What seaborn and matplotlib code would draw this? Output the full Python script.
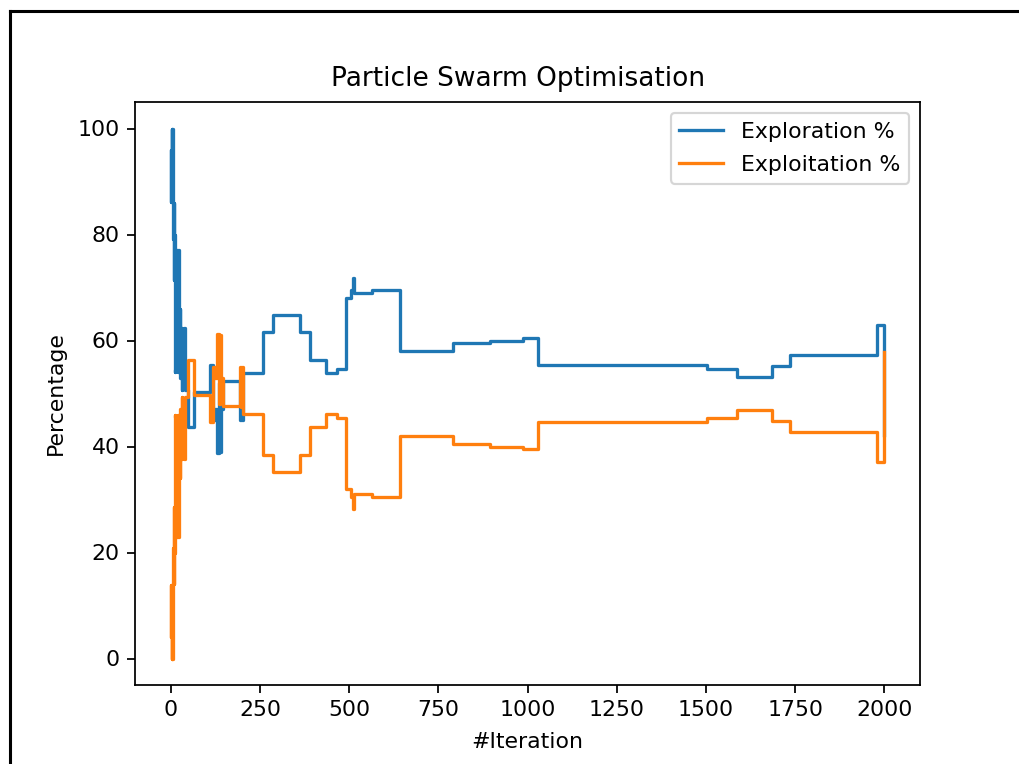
import matplotlib
matplotlib.use("Agg")
import matplotlib.pyplot as plt
import seaborn as sns
import pandas as pd

# step breakpoints (value holds until next iteration)
iteration = [0, 1, 2, 3, 4, 5, 6, 7, 8, 9, 10, 11, 12, 13, 14, 16, 18, 19, 20, 21,
             23, 25, 27, 29, 31, 33, 36, 38, 41, 48, 64, 110, 118, 124, 131, 135, 138, 142, 146, 194,
             197, 199, 203, 259, 287, 363, 391, 436, 467, 492, 505, 510, 513, 565, 644, 790, 894, 987, 1029, 1502,
             1586, 1684, 1735, 1980, 2000]
exploration = [95.8, 86.2, 96.0, 100.0, 88.5, 100.0, 82.0, 79.2, 86.0, 71.4, 80.0, 54.0, 66.0, 54.5, 71.0, 58.0, 77.0, 62.0, 54.0, 77.0,
               56.0, 66.0, 53.0, 62.3, 50.7, 60.0, 51.5, 62.3, 50.7, 43.7, 50.3, 55.4, 45.0, 47.0, 38.8, 52.0, 39.0, 47.0, 52.3, 45.0,
               52.5, 45.0, 53.9, 61.6, 64.8, 61.6, 56.3, 53.9, 54.6, 68.0, 69.5, 71.8, 69.0, 69.6, 58.0, 59.5, 60.0, 60.4, 55.3, 54.6,
               53.1, 55.1, 57.2, 63.0, 42.2]
exploitation = [4.2, 13.8, 4.0, 0.0, 11.5, 0.0, 18.0, 20.8, 14.0, 28.6, 20.0, 46.0, 34.0, 45.5, 29.0, 42.0, 23.0, 38.0, 46.0, 23.0,
                44.0, 34.0, 47.0, 37.7, 49.3, 40.0, 48.5, 37.7, 49.3, 56.3, 49.7, 44.6, 55.0, 53.0, 61.2, 48.0, 61.0, 53.0, 47.7, 55.0,
                47.5, 55.0, 46.1, 38.4, 35.2, 38.4, 43.7, 46.1, 45.4, 32.0, 30.5, 28.2, 31.0, 30.4, 42.0, 40.5, 40.0, 39.6, 44.7, 45.4,
                46.9, 44.9, 42.8, 37.0, 57.8]

df = pd.DataFrame({"iteration": iteration,
                   "exploration": exploration,
                   "exploitation": exploitation})

DPI = 158
fig = plt.figure(figsize=(1019 / DPI, 764 / DPI), dpi=DPI)
ax = fig.add_axes([135 / 1019, 1 - 685 / 764, 785 / 1019, 583 / 764])

sns.lineplot(data=df, x="iteration", y="exploration", ax=ax, color="#1f77b4",
             drawstyle="steps-post", estimator=None, sort=False, label="Exploration %")
sns.lineplot(data=df, x="iteration", y="exploitation", ax=ax, color="#ff7f0e",
             drawstyle="steps-post", estimator=None, sort=False, label="Exploitation %")

ax.set_xticks([0, 250, 500, 750, 1000, 1250, 1500, 1750, 2000])
ax.set_yticks([0, 20, 40, 60, 80, 100])
ax.set_xlabel("#Iteration", labelpad=5.4)
ax.set_ylabel("Percentage", labelpad=5.4)
ax.set_title("Particle Swarm Optimisation", x=0.488, pad=7.5)
ax.legend(loc="upper right", labelspacing=0.6)

# screenshot frame (top and left edges)
fig.add_artist(plt.Line2D([9.5 / 1019, 9.5 / 1019], [0, 1 - 10.5 / 764],
                          transform=fig.transFigure, color="black", lw=1.4))
fig.add_artist(plt.Line2D([9.5 / 1019, 1], [1 - 10.5 / 764, 1 - 10.5 / 764],
                          transform=fig.transFigure, color="black", lw=1.4))

fig.savefig("out.png", dpi=DPI)
